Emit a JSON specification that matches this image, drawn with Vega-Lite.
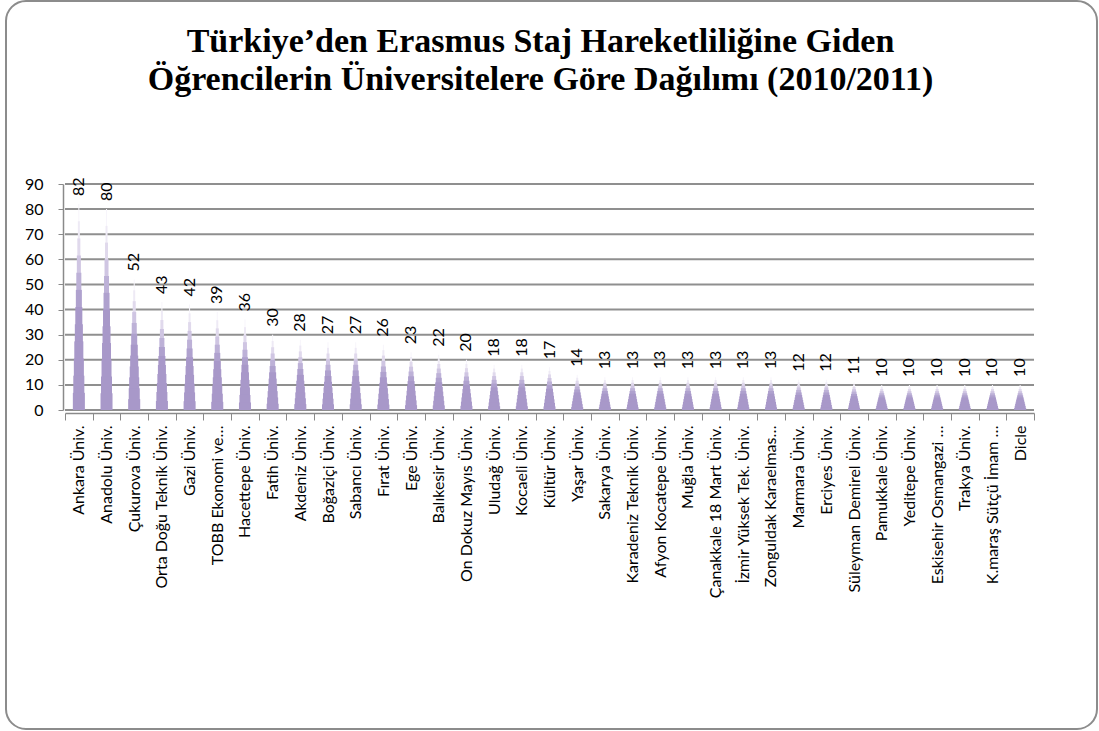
{
  "$schema": "https://vega.github.io/schema/vega-lite/v6.json",
  "width": 1091,
  "height": 728,
  "autosize": {"type": "none"},
  "padding": {"left": 6, "top": 1, "right": 2, "bottom": 2},
  "background": "white",
  "config": {
    "view": {"stroke": "#8c8c8c", "strokeWidth": 2, "cornerRadius": 20, "fill": "white"}
  },
  "title": {
    "text": ["Türkiye’den Erasmus Staj Hareketliliğine Giden", "Öğrencilerin Üniversitelere Göre Dağılımı (2010/2011)"],
    "font": "Liberation Serif",
    "fontSize": 34,
    "fontWeight": "bold",
    "color": "#000000",
    "anchor": "middle",
    "frame": "group",
    "offset": -96,
    "dx": -11,
    "lineHeight": 38
  },
  "data": {
    "values": [
      {"u": "Ankara Üniv.", "n": 82},
      {"u": "Anadolu Üniv.", "n": 80},
      {"u": "Çukurova Üniv.", "n": 52},
      {"u": "Orta Doğu Teknik Üniv.", "n": 43},
      {"u": "Gazi Üniv.", "n": 42},
      {"u": "TOBB Ekonomi ve…", "n": 39},
      {"u": "Hacettepe Üniv.", "n": 36},
      {"u": "Fatih Üniv.", "n": 30},
      {"u": "Akdeniz Üniv.", "n": 28},
      {"u": "Boğaziçi Üniv.", "n": 27},
      {"u": "Sabancı Üniv.", "n": 27},
      {"u": "Fırat Üniv.", "n": 26},
      {"u": "Ege Üniv.", "n": 23},
      {"u": "Balıkesir Üniv.", "n": 22},
      {"u": "On Dokuz Mayıs Üniv.", "n": 20},
      {"u": "Uludağ Üniv.", "n": 18},
      {"u": "Kocaeli Üniv.", "n": 18},
      {"u": "Kültür Üniv.", "n": 17},
      {"u": "Yaşar Üniv.", "n": 14},
      {"u": "Sakarya Üniv.", "n": 13},
      {"u": "Karadeniz Teknik Üniv.", "n": 13},
      {"u": "Afyon Kocatepe Üniv.", "n": 13},
      {"u": "Muğla Üniv.", "n": 13},
      {"u": "Çanakkale 18 Mart Üniv.", "n": 13},
      {"u": "İzmir Yüksek Tek. Üniv.", "n": 13},
      {"u": "Zonguldak Karaelmas…", "n": 13},
      {"u": "Marmara Üniv.", "n": 12},
      {"u": "Erciyes Üniv.", "n": 12},
      {"u": "Süleyman Demirel Üniv.", "n": 11},
      {"u": "Pamukkale Üniv.", "n": 10},
      {"u": "Yeditepe Üniv.", "n": 10},
      {"u": "Eskisehir Osmangazi …", "n": 10},
      {"u": "Trakya Üniv.", "n": 10},
      {"u": "K.maraş Sütçü İmam …", "n": 10},
      {"u": "Dicle", "n": 10}
    ]
  },
  "resolve": {"scale": {"y": "independent"}},
  "layer": [
    {
      "data": {"values": [{"t": 0}, {"t": 10}, {"t": 20}, {"t": 30}, {"t": 40}, {"t": 50}, {"t": 60}, {"t": 70}, {"t": 80}, {"t": 90}]},
      "mark": {"type": "rule", "color": "#8f8f8f", "strokeWidth": 2},
      "encoding": {
        "x": {
          "datum": "Ankara Üniv.", "type": "nominal", "bandPosition": 0,
          "scale": {
            "domain": ["Ankara Üniv.", "Anadolu Üniv.", "Çukurova Üniv.", "Orta Doğu Teknik Üniv.", "Gazi Üniv.", "TOBB Ekonomi ve…", "Hacettepe Üniv.", "Fatih Üniv.", "Akdeniz Üniv.", "Boğaziçi Üniv.", "Sabancı Üniv.", "Fırat Üniv.", "Ege Üniv.", "Balıkesir Üniv.", "On Dokuz Mayıs Üniv.", "Uludağ Üniv.", "Kocaeli Üniv.", "Kültür Üniv.", "Yaşar Üniv.", "Sakarya Üniv.", "Karadeniz Teknik Üniv.", "Afyon Kocatepe Üniv.", "Muğla Üniv.", "Çanakkale 18 Mart Üniv.", "İzmir Yüksek Tek. Üniv.", "Zonguldak Karaelmas…", "Marmara Üniv.", "Erciyes Üniv.", "Süleyman Demirel Üniv.", "Pamukkale Üniv.", "Yeditepe Üniv.", "Eskisehir Osmangazi …", "Trakya Üniv.", "K.maraş Sütçü İmam …", "Dicle"],
            "range": [59, 1028], "paddingInner": 0, "paddingOuter": 0
          },
          "axis": {
            "title": null, "orient": "bottom", "offset": -316, "labelAngle": 270, "labelAlign": "right",
            "labelBaseline": "middle", "labelFont": "Lato", "labelFontSize": 16, "labelColor": "#000000",
            "labelPadding": 5, "labelLimit": 400, "labelOverlap": false, "tickBand": "extent", "tickSize": 7,
            "tickColor": "#8a8a8a", "domainColor": "#8a8a8a", "domainWidth": 1.5, "grid": false
          }
        },
        "x2": {"datum": "Dicle", "bandPosition": 1},
        "y": {
          "field": "t", "type": "quantitative",
          "scale": {"domain": [0, 90], "range": [409, 183], "nice": false, "zero": true},
          "axis": {
            "title": null, "offset": -57, "values": [0, 10, 20, 30, 40, 50, 60, 70, 80, 90],
            "grid": false, "labelFont": "Lato", "labelFontSize": 16, "labelColor": "#000000",
            "labelPadding": 15, "tickSize": 5, "tickColor": "#8a8a8a", "domainColor": "#8a8a8a", "domainWidth": 1.5
          }
        }
      }
    },
    {"mark": {"type": "bar", "width": 1, "color": "#f7f5fb"}, "encoding": {"x": {"field": "u", "type": "nominal", "sort": null}, "y": {"field": "n", "type": "quantitative", "scale": {"domain": [0, 90], "range": [409, 183], "nice": false}, "axis": null}}},
    {"mark": {"type": "bar", "width": 2, "color": "#eeeaf5"}, "encoding": {"x": {"field": "u", "type": "nominal", "sort": null}, "y": {"field": "n", "type": "quantitative", "scale": {"domain": [0, 98.18], "range": [409, 183], "nice": false}, "axis": null}}},
    {"mark": {"type": "bar", "width": 3, "color": "#e0d9ec"}, "encoding": {"x": {"field": "u", "type": "nominal", "sort": null}, "y": {"field": "n", "type": "quantitative", "scale": {"domain": [0, 108], "range": [409, 183], "nice": false}, "axis": null}}},
    {"mark": {"type": "bar", "width": 4, "color": "#cfc5e2"}, "encoding": {"x": {"field": "u", "type": "nominal", "sort": null}, "y": {"field": "n", "type": "quantitative", "scale": {"domain": [0, 120], "range": [409, 183], "nice": false}, "axis": null}}},
    {"mark": {"type": "bar", "width": 5, "color": "#bdb1d7"}, "encoding": {"x": {"field": "u", "type": "nominal", "sort": null}, "y": {"field": "n", "type": "quantitative", "scale": {"domain": [0, 135], "range": [409, 183], "nice": false}, "axis": null}}},
    {"mark": {"type": "bar", "width": 6, "color": "#afa1ce"}, "encoding": {"x": {"field": "u", "type": "nominal", "sort": null}, "y": {"field": "n", "type": "quantitative", "scale": {"domain": [0, 154.29], "range": [409, 183], "nice": false}, "axis": null}}},
    {"mark": {"type": "bar", "width": 7, "color": "#a898c9"}, "encoding": {"x": {"field": "u", "type": "nominal", "sort": null}, "y": {"field": "n", "type": "quantitative", "scale": {"domain": [0, 180], "range": [409, 183], "nice": false}, "axis": null}}},
    {"mark": {"type": "bar", "width": 8, "color": "#a898c9"}, "encoding": {"x": {"field": "u", "type": "nominal", "sort": null}, "y": {"field": "n", "type": "quantitative", "scale": {"domain": [0, 216], "range": [409, 183], "nice": false}, "axis": null}}},
    {"mark": {"type": "bar", "width": 9, "color": "#a898c9"}, "encoding": {"x": {"field": "u", "type": "nominal", "sort": null}, "y": {"field": "n", "type": "quantitative", "scale": {"domain": [0, 270], "range": [409, 183], "nice": false}, "axis": null}}},
    {"mark": {"type": "bar", "width": 10, "color": "#a898c9"}, "encoding": {"x": {"field": "u", "type": "nominal", "sort": null}, "y": {"field": "n", "type": "quantitative", "scale": {"domain": [0, 360], "range": [409, 183], "nice": false}, "axis": null}}},
    {"mark": {"type": "bar", "width": 11, "color": "#a898c9"}, "encoding": {"x": {"field": "u", "type": "nominal", "sort": null}, "y": {"field": "n", "type": "quantitative", "scale": {"domain": [0, 540], "range": [409, 183], "nice": false}, "axis": null}}},
    {"mark": {"type": "bar", "width": 12, "color": "#a898c9"}, "encoding": {"x": {"field": "u", "type": "nominal", "sort": null}, "y": {"field": "n", "type": "quantitative", "scale": {"domain": [0, 1080], "range": [409, 183], "nice": false}, "axis": null}}},
    {
      "mark": {"type": "text", "angle": 270, "align": "left", "baseline": "middle", "dx": 8, "font": "Lato", "fontSize": 16, "color": "#000000"},
      "encoding": {
        "x": {"field": "u", "type": "nominal", "sort": null},
        "y": {"field": "n", "type": "quantitative", "scale": {"domain": [0, 90], "range": [409, 183], "nice": false}, "axis": null},
        "text": {"field": "n", "type": "quantitative"}
      }
    }
  ]
}
